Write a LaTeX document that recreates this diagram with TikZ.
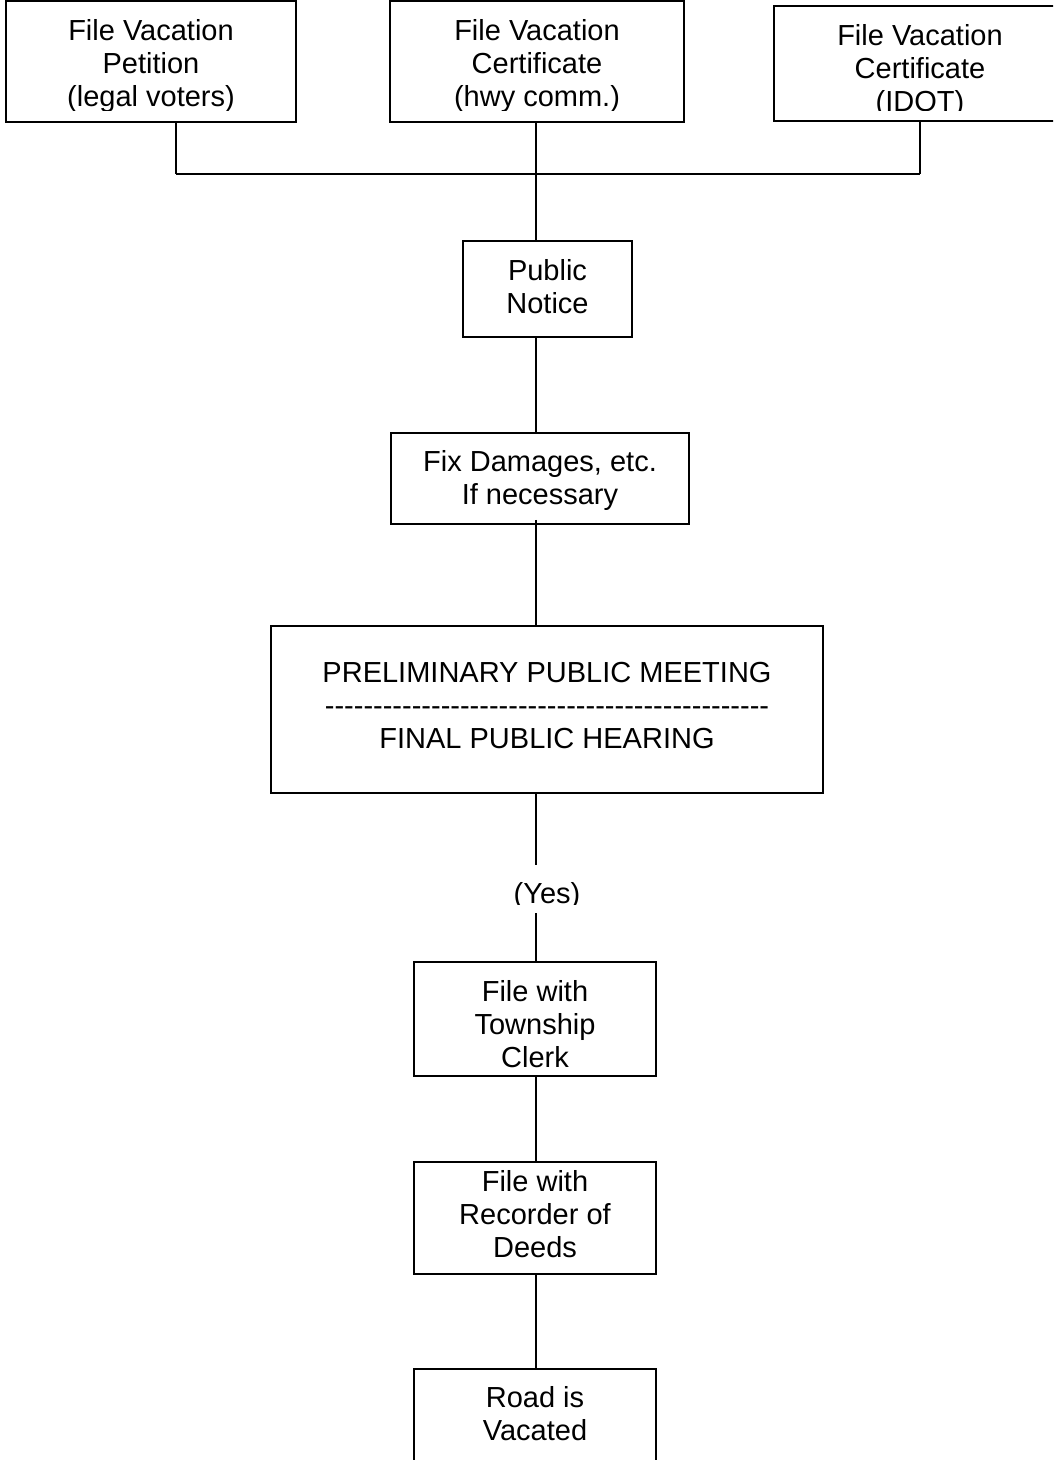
\documentclass[tikz,border=0pt]{standalone}
\usepackage{fontspec}
\setmainfont{Liberation Sans}[Ligatures=TeXOff]
\begin{document}
\begin{tikzpicture}[x=1pt,y=-1pt,
  box/.style={draw, line width=1.5pt, inner sep=0pt},
  txt/.style={align=center, inner sep=0pt, font=\fontsize{29}{33}\selectfont},
  conn/.style={line width=1.5pt}]
\useasboundingbox (0,0) rectangle (1053,1460);
\clip (0,0) rectangle (1053,1460);
% top row
\node[box, minimum width=290pt, minimum height=121pt] (p1) at (151,61.5) {};
\node[box, minimum width=294pt, minimum height=121pt] (p2) at (537,61.5) {};
\node[box, minimum width=292pt, minimum height=115pt] (p3) at (920,63.5) {};
\begin{scope}
  \clip (0,2) rectangle (1052,110.5);
  \node[txt] (p1t) at (151,65.5) {File Vacation\\Petition\\(legal voters)};
  \node[txt] (p2t) at (537,65.5) {File Vacation\\Certificate\\(hwy comm.)};
  \node[txt] (p3t) at (920,71) {File Vacation\\Certificate\\(IDOT)};
\end{scope}
% junction
\coordinate (j1) at (176,174);
\coordinate (j2) at (536,174);
\coordinate (j3) at (920,174);
% chain
\node[box, minimum width=169pt, minimum height=96pt] (pn) at (547.5,289) {};
\node[txt] (pnt) at (547.5,286.5) {Public\\Notice};
\node[box, minimum width=298pt, minimum height=91pt] (fix) at (540,478.5) {};
\node[txt] (fixt) at (540,480.5) {Fix Damages, etc.\\If necessary};
\node[box, minimum width=552pt, minimum height=167pt] (pre) at (547,709.5) {};
\node[txt] (pret) at (547,705.5) {PRELIMINARY PUBLIC MEETING\\----------------------------------------------\\FINAL PUBLIC HEARING};
\begin{scope}
  \clip (490,870) rectangle (610,904.5);
  \node[txt, anchor=base] (yes) at (547,903) {(Yes)};
\end{scope}
\coordinate (ya) at (536,865);
\coordinate (yb) at (536,913);
\node[box, minimum width=242pt, minimum height=114pt] (clerk) at (535,1019) {};
\node[txt] (clerkt) at (535,1024.5) {File with\\Township\\Clerk};
\node[box, minimum width=242pt, minimum height=112pt] (deeds) at (535,1218) {};
\node[txt] (deedst) at (535,1214) {File with\\Recorder of\\Deeds};
\node[box, minimum width=242pt, minimum height=96pt] (road) at (535,1417) {};
\node[txt] (roadt) at (535,1414) {Road is\\Vacated};
% connectors
\draw[conn] (p1.south -| j1) -- (j1);
\draw[conn] (p3.south -| j3) -- (j3);
\draw[conn] (j1) -- (j3);
\draw[conn] (p2.south -| j2) -- (j2 |- pn.north);
\draw[conn] (pn.south -| j2) -- (j2 |- fix.north);
\draw[conn] ([yshift=5pt]fix.south -| j2) -- (j2 |- pre.north);
\draw[conn] (pre.south -| j2) -- (ya);
\draw[conn] (yb) -- (j2 |- clerk.north);
\draw[conn] (clerk.south -| j2) -- (j2 |- deeds.north);
\draw[conn] (deeds.south -| j2) -- (j2 |- road.north);
\end{tikzpicture}
\end{document}
